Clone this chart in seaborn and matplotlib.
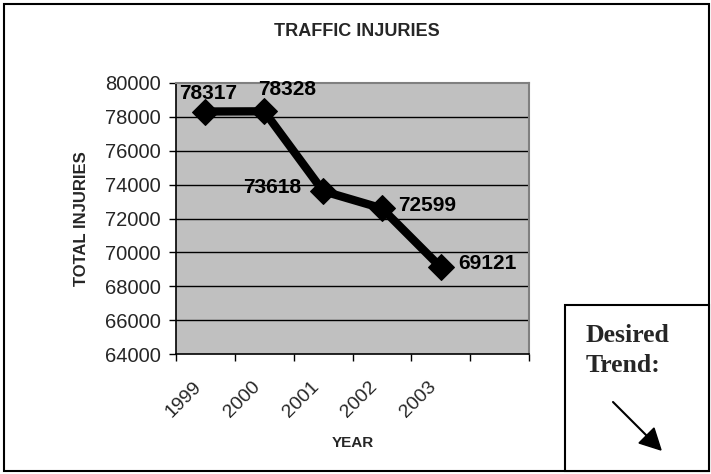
import matplotlib
matplotlib.use("Agg")
import matplotlib.pyplot as plt
import matplotlib.transforms as mtransforms
import seaborn as sns
import numpy as np
from matplotlib.patches import Rectangle, Polygon

years = ["1999", "2000", "2001", "2002", "2003"]
injuries = [78317, 78328, 73618, 72599, 69121]
yticks = [64000, 66000, 68000, 70000, 72000, 74000, 76000, 78000, 80000]
# label offsets in pixels (dx, dy)
label_offsets = [(3, 18), (23, 22), (-51, 4), (45, 3), (47, 4)]

sns.set_theme(style="white")
plt.rcParams['font.family'] = ['Liberation Sans', 'DejaVu Sans']

W, H = 711, 474
fig = plt.figure(figsize=(W / 100, H / 100), dpi=100)
fig.patch.set_facecolor("white")

ax = fig.add_axes([176 / W, 1 - 354 / H, (529 - 176) / W, (354 - 83) / H])
ax.set_facecolor("#c0c0c0")

x = np.arange(len(years))
sns.lineplot(x=x, y=injuries, ax=ax, color="black", linewidth=6,
             marker="D", markersize=13, markeredgecolor="black",
             markerfacecolor="black", zorder=5)

ax.set_xlim(-0.5, 5.5)
ax.set_ylim(64000, 80000)
ax.set_yticks(yticks)
ax.set_yticklabels([str(v) for v in yticks], fontsize=14.5)
for v in yticks[1:-1]:
    ax.axhline(v, color="black", linewidth=1, zorder=1)

ax.set_xticks(np.arange(-0.5, 6.0, 1.0))
ax.set_xticklabels([])
ax.set_xticks(x, minor=True)
ax.set_xticklabels(years, minor=True, rotation=45, ha="right", va="center",
                   rotation_mode="anchor", fontsize=14)
ax.tick_params(axis="x", which="minor", length=0, pad=22)
ax.tick_params(axis="x", which="major", length=5, width=1, color="black", direction="out", bottom=True)
ax.tick_params(axis="y", length=5, width=1, color="black", direction="out", left=True, pad=6)
shift = mtransforms.ScaledTranslation(-7 / 100, 0, fig.dpi_scale_trans)
for lab in ax.get_xticklabels(minor=True):
    lab.set_transform(lab.get_transform() + shift)

for s in ["top", "right"]:
    ax.spines[s].set_color("#808080")
    ax.spines[s].set_linewidth(1.5)
for s in ["left", "bottom"]:
    ax.spines[s].set_color("black")
    ax.spines[s].set_linewidth(1.2)

for xi, yi, (dx, dy) in zip(x, injuries, label_offsets):
    ax.annotate(str(yi), (xi, yi), xytext=(dx, dy), textcoords="offset pixels",
                ha="center", va="center", fontsize=15, fontweight="bold",
                color="black", zorder=6)

ax.set_xlabel("")
ax.set_ylabel("")
fig.text(353 / W, 1 - 443 / H, "YEAR", ha="center", va="center",
         fontsize=11, fontweight="bold")
fig.text(81 / W, 1 - 219 / H, "TOTAL INJURIES", ha="center", va="center",
         rotation=90, fontsize=12, fontweight="bold")
fig.text(357 / W, 1 - 31 / H, "TRAFFIC INJURIES", ha="center", va="center",
         fontsize=13, fontweight="bold")

# outer border
fig.patches.append(Rectangle((4 / W, 1 - 471 / H), 705 / W, 467 / H,
                             transform=fig.transFigure, fill=False,
                             edgecolor="black", linewidth=1.5))
# desired trend box
fig.patches.append(Rectangle((565 / W, 1 - 471 / H), 144 / W, 166 / H,
                             transform=fig.transFigure, fill=True, facecolor="white",
                             edgecolor="black", linewidth=1.5, zorder=3))
fig.text(586 / W, 1 - 335 / H, "Desired", ha="left", va="center",
         fontsize=18.5, fontweight="bold", family=["Liberation Serif"], zorder=4)
fig.text(586 / W, 1 - 366 / H, "Trend:", ha="left", va="center",
         fontsize=18.5, fontweight="bold", family=["Liberation Serif"], zorder=4)
fig.add_artist(plt.Line2D([613 / W, 648 / W], [1 - 402 / H, 1 - 437 / H],
                          transform=fig.transFigure, color="black", linewidth=1.5,
                          zorder=5))
fig.patches.append(Polygon(
    [(661 / W, 1 - 450 / H), (639 / W, 1 - 443 / H), (654 / W, 1 - 428 / H)],
    closed=True, transform=fig.transFigure, facecolor="black", edgecolor="black", zorder=5))

fig.savefig("out.png", dpi=100, facecolor="white")
